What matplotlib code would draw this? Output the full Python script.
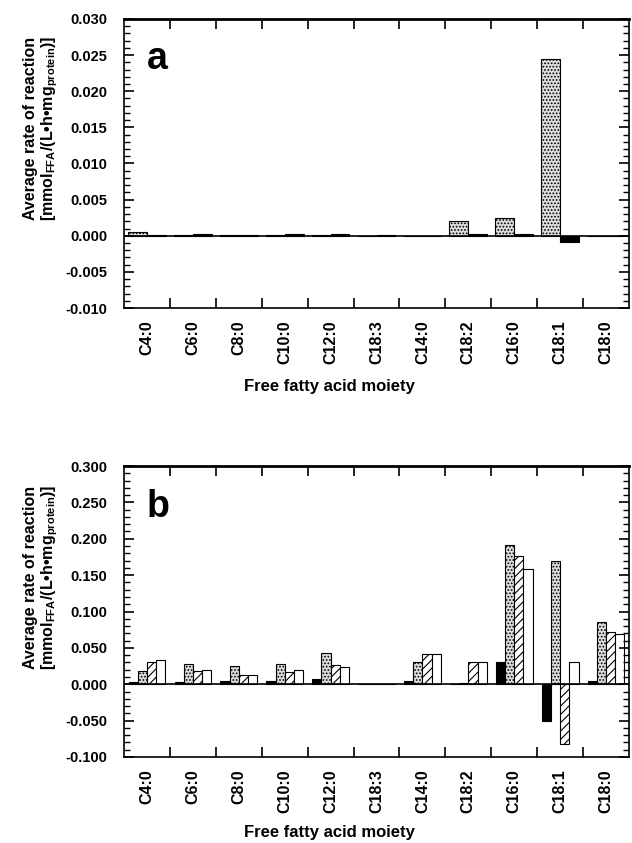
import matplotlib
matplotlib.use("Agg")
import matplotlib.pyplot as plt
import matplotlib.transforms as mtransforms
import numpy as np
from matplotlib.ticker import MultipleLocator, FixedLocator, FuncFormatter

categories = ['C4:0', 'C6:0', 'C8:0', 'C10:0', 'C12:0', 'C18:3', 'C14:0',
              'C18:2', 'C16:0', 'C18:1', 'C18:0']

# panel a (two series)
a_dotted = [0.0005, 0.0001, 0.0001, 0.0001, 0.0001, 0.0, 0.0, 0.0020, 0.0025, 0.0245, 0.0]
a_black = [0.0001, 0.0002, 0.0001, 0.0002, 0.0003, 0.0001, 0.0, 0.0002, 0.0002, -0.0008, -0.0001]

# panel b (four series)
b_black = [0.003, 0.003, 0.005, 0.005, 0.007, 0.001, 0.005, 0.001, 0.031, -0.051, 0.005]
b_dotted = [0.018, 0.028, 0.025, 0.028, 0.043, 0.001, 0.031, 0.002, 0.192, 0.170, 0.085]
b_hatched = [0.030, 0.018, 0.013, 0.017, 0.027, 0.001, 0.041, 0.031, 0.176, -0.082, 0.072]
b_white = [0.034, 0.020, 0.013, 0.019, 0.024, 0.001, 0.042, 0.031, 0.159, 0.031, 0.069]

plt.rcParams['font.family'] = ['Liberation Sans', 'DejaVu Sans']
plt.rcParams['font.weight'] = 'bold'
plt.rcParams['mathtext.fontset'] = 'custom'
plt.rcParams['mathtext.rm'] = 'Liberation Sans:bold'
plt.rcParams['mathtext.bf'] = 'Liberation Sans:bold'
plt.rcParams['mathtext.default'] = 'bf'
plt.rcParams['hatch.linewidth'] = 0.8

fig = plt.figure(figsize=(6.32, 8.43), dpi=100)
W, H = 632, 843


def make_ax(top, bottom):
    return fig.add_axes([124 / W, 1 - bottom / H, (629 - 124) / W, (bottom - top) / H])


ax_a = make_ax(19, 308)
ax_b = make_ax(466, 757)

x = np.arange(len(categories))
dot_style = dict(facecolor='#dcdcdc', edgecolor='black', hatch='.....', linewidth=0.8)

# panel a
w = 0.41
ax_a.bar(x - w / 2, a_dotted, width=w, **dot_style)
ax_a.bar(x + w / 2, a_black, width=w, facecolor='black', edgecolor='black', linewidth=0.8)

# panel b
w = 0.2
ax_b.bar(x - 1.5 * w, b_black, width=w, facecolor='black', edgecolor='black', linewidth=0.8)
ax_b.bar(x - 0.5 * w, b_dotted, width=w, **dot_style)
ax_b.bar(x + 0.5 * w, b_hatched, width=w, facecolor='white', edgecolor='black',
         hatch='////', linewidth=0.8)
ax_b.bar(x + 1.5 * w, b_white, width=w, facecolor='white', edgecolor='black', linewidth=0.8)

line1 = "Average rate of reaction"
line2 = "[mmol$_{\\mathbf{FFA}}$/(L•h•mg$_{\\mathbf{protein}}$)]"
offset = mtransforms.ScaledTranslation(3 / 100, 0, fig.dpi_scale_trans)

for ax, ylim, major, minor, letter, ylab_y, xlab_y in [
        (ax_a, (-0.010, 0.030), 0.005, 0.001, 'a', 128, 387),
        (ax_b, (-0.100, 0.300), 0.050, 0.010, 'b', 577, 833)]:
    ax.set_xlim(-0.5, len(categories) - 0.5)
    ax.set_ylim(*ylim)
    ax.axhline(0, color='black', linewidth=1.2, zorder=3)
    ax.yaxis.set_major_locator(MultipleLocator(major))
    ax.yaxis.set_minor_locator(MultipleLocator(minor))
    ax.yaxis.set_major_formatter(FuncFormatter(lambda v, p: f"{v:.3f}"))
    ax.xaxis.set_major_locator(FixedLocator(np.arange(0.5, len(categories) - 0.5, 1.0)))
    ax.xaxis.set_major_formatter(FuncFormatter(lambda v, p: ""))
    ax.set_xticks(x, categories, minor=True, rotation=90, fontsize=11.5, fontweight='bold')
    for lab in ax.get_xticklabels(minor=True):
        lab.set_transform(lab.get_transform() + offset)
    ax.tick_params(axis='x', which='minor', length=0, pad=9)
    ax.tick_params(axis='x', which='major', direction='in', length=7, width=1.2,
                   top=True, bottom=True)
    ax.tick_params(axis='y', which='major', direction='in', length=7, width=1.2,
                   left=True, right=True, labelsize=10.5, pad=12)
    ax.tick_params(axis='y', which='minor', direction='in', length=4, width=1.0,
                   left=True, right=True)
    for lab in ax.get_yticklabels():
        lab.set_fontweight('bold')
    for side in ['top', 'bottom', 'left', 'right']:
        ax.spines[side].set_linewidth(1.2)
    ax.spines['top'].set_linewidth(2.0)
    fig.text(329 / W, 1 - xlab_y / H, "Free fatty acid moiety", fontsize=12,
             fontweight='bold', ha='center', va='center')
    fig.text(30 / W, 1 - ylab_y / H, line1, fontsize=11.5, fontweight='bold',
             rotation=90, ha='center', va='center')
    fig.text(50 / W, 1 - ylab_y / H, line2, fontsize=11.5, fontweight='bold',
             rotation=90, ha='center', va='center')
    ax.text(0.045, 0.86, letter, transform=ax.transAxes, fontsize=27,
            fontweight='bold', va='center', ha='left')

fig.savefig("out.png", dpi=100)
